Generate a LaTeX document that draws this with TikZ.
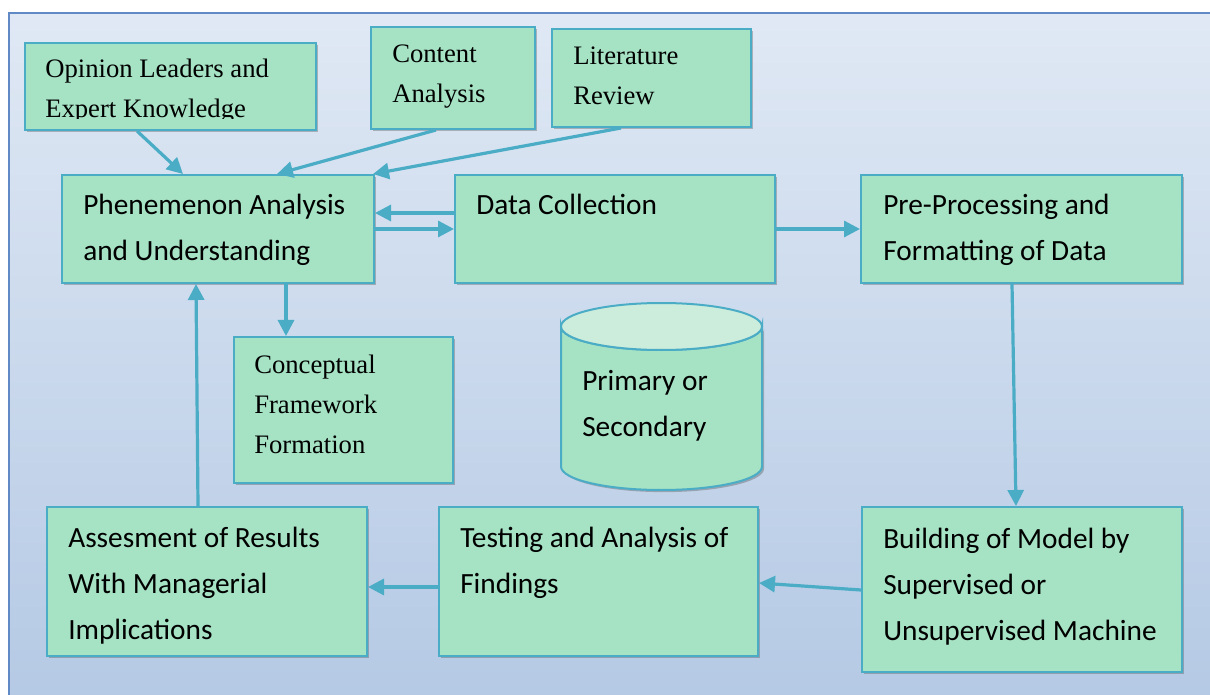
\documentclass[tikz,border=0pt]{standalone}
\usepackage{fontspec}
\setmainfont{Liberation Serif}
\newfontfamily\calib{Carlito}
\usetikzlibrary{arrows.meta,fit,shadows}
\definecolor{arrowc}{RGB}{75,172,198}
\definecolor{boxfill}{RGB}{166,226,196}
\definecolor{cyltop}{RGB}{204,237,220}
\definecolor{framec}{RGB}{96,137,198}
\definecolor{bgtop}{RGB}{245,248,252}
\definecolor{bgmid}{RGB}{179,200,228}
\definecolor{bgbot}{RGB}{197,212,234}
\pgfdeclareverticalshading{bgshade}{100bp}{color(0bp)=(bgbot); color(23bp)=(bgmid); color(100bp)=(bgtop)}
\tikzset{
  box/.style={draw=arrowc, line width=1.5pt, fill=boxfill, inner sep=0pt,
    drop shadow={shadow xshift=1.6pt, shadow yshift=-1.6pt, opacity=0.35, fill=black!70}},
  arr/.style={draw=arrowc, line width=2.4pt, -{Triangle[length=12pt,width=12pt]}},
  sansT/.style={font=\calib\fontsize{22}{34.5}\selectfont, anchor=base west, align=left, inner sep=0pt},
  serifT/.style={font=\fontsize{20}{30}\selectfont, anchor=base west, align=left, inner sep=0pt},
}
\begin{document}
\begin{tikzpicture}[x=0.75pt,y=-0.75pt]
\useasboundingbox (0,0) rectangle (1210,695);
\fill[white] (0,0) rectangle (1210,695);
\shade[shading=bgshade] (9,13) rectangle (1214,699);
\draw[framec, line width=1.6pt] (9,699) -- (9,13) -- (1214,13);

% boxes
\node[box, fit={(25,43)(316,130)}] (opin) {};
\node[box, fit={(371,27)(535,129)}] (cont) {};
\node[box, fit={(552,29)(751,127)}] (lit) {};
\node[box, fit={(62,175)(374,283)}] (phen) {};
\node[box, fit={(455,175)(775,283)}] (dc) {};
\node[box, fit={(861,175)(1182,283)}] (prep) {};
\node[box, fit={(234,337)(453,483)}] (conc) {};
\node[box, fit={(47,507)(367,656)}] (assess) {};
\node[box, fit={(439,507)(758,656)}] (test) {};
\node[box, fit={(862,507)(1182,672)}] (build) {};

% cylinder
\path[draw=arrowc, line width=1.5pt, fill=boxfill,
  drop shadow={shadow xshift=1.6pt, shadow yshift=-1.6pt, opacity=0.35, fill=black!70}]
  (561,326.5) -- (561,466.5) arc[start angle=180, end angle=0, x radius=100.5, y radius=23.5]
  -- (762,326.5) arc[start angle=0, end angle=180, x radius=100.5, y radius=23.5] -- cycle;
\path[draw=arrowc, line width=1.5pt, fill=cyltop] (661.5,326.5) ellipse [x radius=100.5, y radius=23.5];

% texts (anchor = baseline of last line)
\begin{scope}
\clip (25,43) rectangle (316,119);
\node[serifT] (topin) at (45,118) {Opinion Leaders and\\Expert Knowledge};
\end{scope}
\node[serifT] (tcont) at (392,103) {Content\\Analysis};
\node[serifT] (tlit) at (573,105) {Literature\\Review};
\node[sansT] (tphen) at (83,261) {Phenemenon Analysis\\and Understanding};
\node[sansT] (tdc) at (476,215) {Data Collection};
\node[sansT] (tprep) at (883,261) {Pre-Processing and\\Formatting of Data};
\node[serifT] (tconc) at (254,453) {Conceptual\\Framework\\Formation};
\node[sansT] (tcyl) at (582,436) {Primary or\\Secondary};
\node[sansT] (tassess) at (68,639) {Assesment of Results\\With Managerial\\Implications};
\node[sansT] (ttest) at (460,593) {Testing and Analysis of\\Findings};
\node[sansT] (tbuild) at (883,640) {Building of Model by\\Supervised or\\Unsupervised Machine};

% arrows
\draw[arr] (opin.south -| 137,0) -- (phen.north -| 183,0);
\draw[arr] (cont.south -| 436,0) -- (phen.north -| 277,0);
\draw[arr] (lit.south -| 621,0) -- (phen.north -| 373,0);
\draw[arr] (dc.west |- 0,213) -- (phen.east |- 0,213);
\draw[arr] (phen.east |- 0,229) -- (dc.west |- 0,229);
\draw[arr] (dc.east |- 0,229) -- (prep.west |- 0,229);
\draw[arr] (phen.south -| 286,0) -- (conc.north -| 286,0);
\draw[arr] (assess.north -| 198,0) -- (phen.south -| 196,0);
\draw[arr] (prep.south -| 1012,0) -- (build.north -| 1016,0);
\draw[arr] (build.west |- 0,590) -- (test.east |- 0,583);
\draw[arr] (test.west |- 0,587) -- (assess.east |- 0,587);
\end{tikzpicture}
\end{document}
